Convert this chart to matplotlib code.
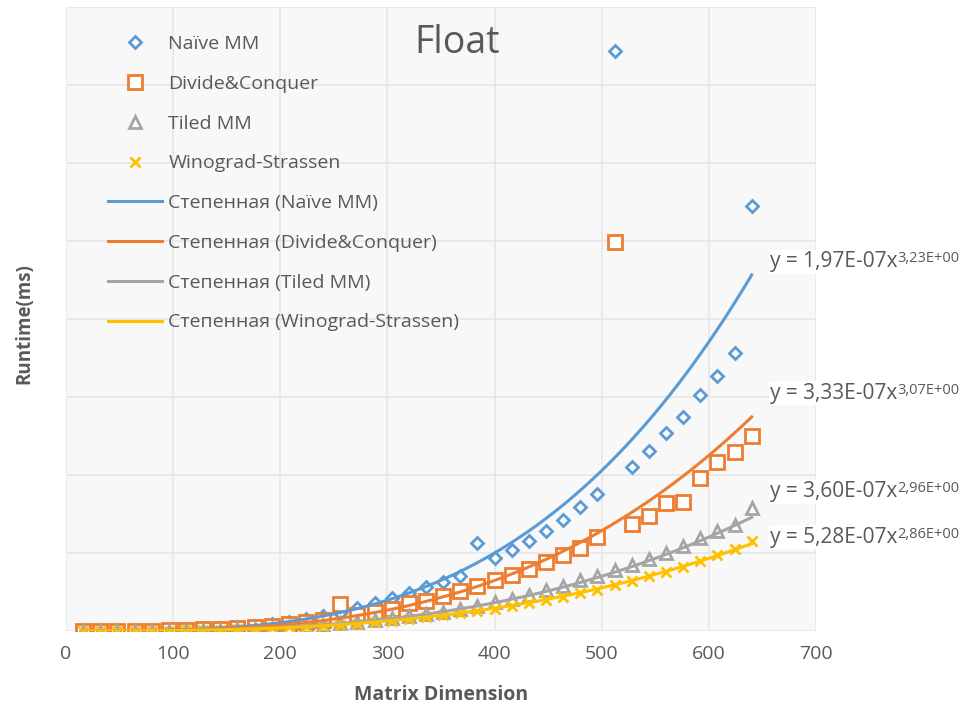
import numpy as np
import matplotlib
matplotlib.use("Agg")
import matplotlib.pyplot as plt
from matplotlib.lines import Line2D
from matplotlib.offsetbox import TextArea, HPacker, AnnotationBbox

plt.rcParams["font.family"] = ["Open Sans", "DejaVu Sans"]

# ── Data: runtime (ms) per matrix dimension ───────────
dims = [16, 32, 48, 64, 80, 96, 112, 128, 144, 160,
        176, 192, 208, 224, 240, 256, 272, 288, 304, 320,
        336, 352, 368, 384, 400, 416, 432, 448, 464, 480,
        496, 512, 528, 544, 560, 576, 592, 608, 624, 640]

naive_ms = [0.01, 0.02, 0.06, 0.15, 0.3, 0.5, 0.8, 1.3, 1.9, 2.6,
            3.5, 4.6, 6.0, 7.6, 9.5, 11.6, 14.8, 17.9, 21.0, 24.2,
            27.9, 31.4, 35.2, 56.3, 46.8, 52.1, 57.4, 64.0, 71.2, 79.6,
            88.1, 371.5, 105.2, 115.4, 127.0, 137.3, 151.0, 163.2, 178.4, 272.6]

divide_ms = [0.01, 0.02, 0.05, 0.12, 0.24, 0.41, 0.66, 1.0, 1.4, 2.0,
             2.6, 3.4, 4.4, 5.5, 6.8, 17.2, 10.1, 12.0, 14.1, 18.0,
             19.4, 22.3, 25.4, 29.0, 32.8, 36.2, 39.6, 44.1, 48.5, 53.2,
             60.1, 249.3, 68.4, 74.0, 82.1, 82.6, 98.0, 108.3, 114.5, 124.8]

tiled_ms = [0.01, 0.01, 0.04, 0.08, 0.15, 0.27, 0.42, 0.63, 0.9, 1.2,
            1.6, 2.1, 2.6, 3.3, 4.0, 4.9, 5.8, 6.9, 8.1, 9.4,
            10.9, 12.5, 14.3, 16.3, 18.4, 20.8, 23.3, 26.0, 29.1, 32.4,
            35.5, 39.0, 42.6, 46.3, 50.0, 54.4, 59.5, 63.8, 68.2, 79.0]

wino_ms = [0.01, 0.01, 0.04, 0.08, 0.15, 0.25, 0.38, 0.56, 0.8, 1.1,
           1.4, 1.8, 2.3, 2.8, 3.4, 4.1, 4.8, 5.7, 6.6, 7.6,
           8.8, 10.0, 11.4, 12.8, 14.4, 16.1, 17.9, 19.8, 22.0, 24.2,
           26.6, 29.3, 32.0, 35.0, 38.0, 41.2, 44.8, 48.5, 52.6, 57.8]

# power trendline y = a * x^b for each series
fit_a = [1.97e-7, 3.33e-7, 3.60e-7, 5.28e-7]
fit_b = [3.23, 3.07, 2.96, 2.86]
fit_a_txt = ["1,97E-07", "3,33E-07", "3,60E-07", "5,28E-07"]
fit_b_txt = ["3,23E+00", "3,07E+00", "2,96E+00", "2,86E+00"]

names = ["Naïve MM", "Divide&Conquer", "Tiled MM", "Winograd-Strassen"]
colors = ["#5B9BD5", "#ED7D31", "#A5A5A5", "#FFC000"]
markers = ["D", "s", "^", "x"]
msizes = [6.5, 10, 8.5, 7.5]
series = [naive_ms, divide_ms, tiled_ms, wino_ms]

TXT = "#595959"

fig = plt.figure(figsize=(9.68, 7.11), dpi=100)
ax = fig.add_axes([66 / 968, 1 - 631 / 711, 750 / 968, 624 / 711])
ax.set_facecolor("#f8f8f8")

# ── Scatter markers ───────────────────────────────────
handles = []
for vals, col, mk, ms, name in zip(series, colors, markers, msizes, names):
    face = col if mk == "x" else "white"
    ax.plot(dims, vals, linestyle="none", marker=mk, markersize=ms,
            markerfacecolor=face, markeredgecolor=col, markeredgewidth=2.0,
            zorder=3)
    handles.append(Line2D([], [], linestyle="none", marker=mk, markersize=ms,
                          markerfacecolor=face, markeredgecolor=col,
                          markeredgewidth=2.0, label=name))

# ── Power trendlines ──────────────────────────────────
xs = np.linspace(dims[0], dims[-1], 300)
for a, b, col, name in zip(fit_a, fit_b, colors, names):
    ax.plot(xs, a * xs ** b, color=col, linewidth=2.2, zorder=4)
    handles.append(Line2D([], [], color=col, linewidth=2.2,
                          label=f"Степенная ({name})"))

ax.set_xlim(0, 700)
ax.set_ylim(0, 400)
ax.set_xticks(range(0, 701, 100))
ax.set_yticks(range(0, 401, 50))
ax.set_yticklabels([])
ax.tick_params(axis="both", length=0, labelsize=14, labelcolor=TXT, pad=10)
ax.grid(True, color="#e6e6e6", linewidth=1.2)
ax.set_axisbelow(True)
for s in ax.spines.values():
    s.set_visible(False)

ax.set_xlabel("Matrix Dimension", fontsize=14, fontweight="bold",
              color=TXT, labelpad=16)
fig.text(24 / 968, 1 - 324 / 711, "Runtime(ms)", rotation=90, ha="center",
         va="center", fontsize=13.5, fontweight="bold", color=TXT)

ax.text(0.521, 0.943, "Float", transform=ax.transAxes, ha="center",
        va="center", fontsize=27, color=TXT)

leg = ax.legend(handles=handles, loc="upper left",
                bbox_to_anchor=(42 / 750, 1 - 28 / 624), frameon=False,
                fontsize=14, borderpad=0, borderaxespad=0,
                handlelength=2.8, handletextpad=0.3, labelspacing=1.12)
for t in leg.get_texts():
    t.set_color(TXT)

# ── Trendline equations ───────────────────────────────
eq_y = [262, 393, 492, 537]
for a_txt, b_txt, py in zip(fit_a_txt, fit_b_txt, eq_y):
    main = TextArea(f"y = {a_txt}x", textprops=dict(fontsize=15, color=TXT))
    sup = TextArea(b_txt, textprops=dict(fontsize=10.5, color=TXT))
    box = HPacker(children=[main, sup], align="top", pad=0, sep=0)
    ab = AnnotationBbox(box, (770 / 968, 1 - py / 711),
                        xycoords="figure fraction", box_alignment=(0, 0.5),
                        frameon=True, pad=0.1,
                        bboxprops=dict(facecolor="white", edgecolor="none"))
    fig.add_artist(ab)

plt.savefig("out.png", dpi=100)
